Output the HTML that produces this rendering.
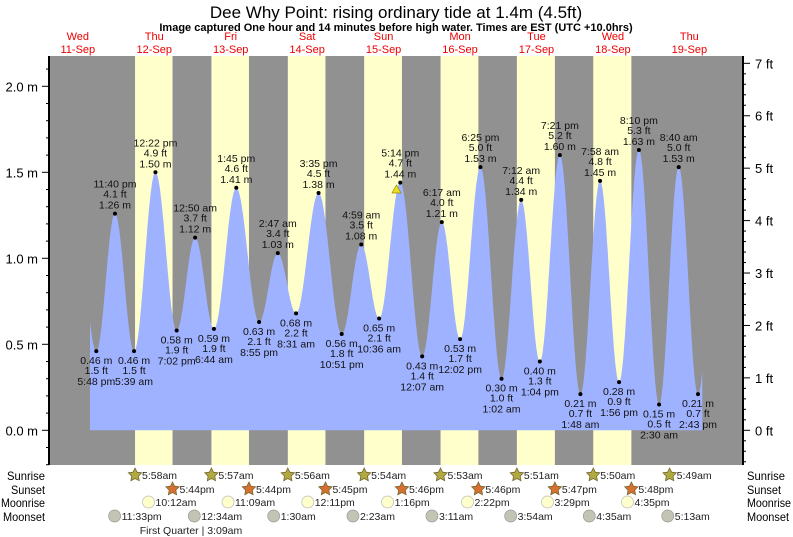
<!DOCTYPE html>
<html><head><meta charset="utf-8"><style>
html,body{margin:0;padding:0;background:#fff;width:793px;height:537px;overflow:hidden}
svg{display:block;font-family:"Liberation Sans",sans-serif}
</style></head><body>
<svg id="s" width="793" height="537" xmlns="http://www.w3.org/2000/svg"></svg>
<script>
var s=document.getElementById('s'),h='';
function X(t){return 39.6+t*3.185;}
function Y(m){return 430.3-m*172;}
var L=49,R=743,T=56,B=465;
h+='<text x="396" y="18" font-size="17" text-anchor="middle">Dee Why Point: rising  ordinary tide at 1.4m (4.5ft)</text>';
h+='<text x="396" y="31" font-size="11" font-weight="bold" text-anchor="middle">Image captured One hour and 14 minutes before high water. Times are EST (UTC +10.0hrs)</text>';
var days=[['Wed','11-Sep'],['Thu','12-Sep'],['Fri','13-Sep'],['Sat','14-Sep'],['Sun','15-Sep'],['Mon','16-Sep'],['Tue','17-Sep'],['Wed','18-Sep'],['Thu','19-Sep']];
days.forEach(function(d,i){var x=X(i*24+12);h+='<text x="'+x+'" y="40" font-size="11" fill="#e00" text-anchor="middle">'+d[0]+'</text><text x="'+x+'" y="53" font-size="11" fill="#e00" text-anchor="middle">'+d[1]+'</text>';});
h+='<rect x="'+L+'" y="'+T+'" width="'+(R-L)+'" height="'+(B-T)+'" fill="#919191"/>';
function hm(s){var m=s.match(/(\d+):(\d+)(am|pm)/);var H=+m[1]%12;if(m[3]=='pm')H+=12;return H+m[2]/60;}
var sr=['5:58am','5:57am','5:56am','5:54am','5:53am','5:51am','5:50am','5:49am'];
var ss=['5:44pm','5:44pm','5:45pm','5:46pm','5:46pm','5:47pm','5:48pm'];
for(var i=0;i<7;i++){var a=X((i+1)*24+hm(sr[i])),b=X((i+1)*24+hm(ss[i]));h+='<rect x="'+a+'" y="'+T+'" width="'+(b-a)+'" height="'+(B-T)+'" fill="#ffffcc"/>';}
var ex=[[0,'5:48pm',.46],[0,'11:40pm',1.26],[1,'5:39am',.46],[1,'12:22pm',1.50],[1,'7:02pm',.58],[2,'12:50am',1.12],[2,'6:44am',.59],[2,'1:45pm',1.41],[2,'8:55pm',.63],[3,'2:47am',1.03],[3,'8:31am',.68],[3,'3:35pm',1.38],[3,'10:51pm',.56],[4,'4:59am',1.08],[4,'10:36am',.65],[4,'5:14pm',1.44],[5,'12:07am',.43],[5,'6:17am',1.21],[5,'12:02pm',.53],[5,'6:25pm',1.53],[6,'1:02am',.30],[6,'7:12am',1.34],[6,'1:04pm',.40],[6,'7:21pm',1.60],[7,'1:48am',.21],[7,'7:58am',1.45],[7,'1:56pm',.28],[7,'8:10pm',1.63],[8,'2:30am',.15],[8,'8:40am',1.53],[8,'2:43pm',.21]];
var pts=[[11.6,1.2]];ex.forEach(function(e){pts.push([e[0]*24+hm(e[1]),e[2]]);});pts.push([213.2,1.5]);
function v(t){for(var i=0;i<pts.length-1;i++){var a=pts[i],b=pts[i+1];if(t>=a[0]&&t<=b[0]){var f=(t-a[0])/(b[0]-a[0]);return a[1]+(b[1]-a[1])*(1-Math.cos(Math.PI*f))/2;}}return 0;}
var t0=(90-39.6)/3.185,t1=(702.3-39.6)/3.185,p='M'+X(t0)+','+Y(0);
for(var t=t0;t<=t1;t+=0.1)p+=' L'+X(t).toFixed(1)+','+Y(v(t)).toFixed(1);
p+=' L'+X(t1)+','+Y(v(t1))+' L'+X(t1)+','+Y(0)+'Z';
h+='<path d="'+p+'" fill="#9fb2ff"/>';
ex.forEach(function(e,i){var x=X(e[0]*24+hm(e[1])),y=Y(e[2]);var ft=(e[2]/0.3048).toFixed(1)+' ft',m=e[2].toFixed(2)+' m',tm=e[1].replace(/(am|pm)/,' $1');
h+='<circle cx="'+x+'" cy="'+y+'" r="2" fill="#000"/>';
var hi=(i%2==1);var g='<g font-size="10.5" text-anchor="middle" fill="#111">';
if(hi)g+='<text x="'+x+'" y="'+(y-5)+'">'+m+'</text><text x="'+x+'" y="'+(y-16)+'">'+ft+'</text><text x="'+x+'" y="'+(y-26)+'">'+tm+'</text>';
else g+='<text x="'+x+'" y="'+(y+13)+'">'+m+'</text><text x="'+x+'" y="'+(y+23)+'">'+ft+'</text><text x="'+x+'" y="'+(y+34)+'">'+tm+'</text>';
h+=g+'</g>';});
h+='<polygon points="392,193 401,193 396.5,185" fill="#e8e020" stroke="#998800" stroke-width="0.7"/>';
h+='<line x1="'+L+'" y1="'+T+'" x2="'+L+'" y2="'+B+'" stroke="#000" stroke-width="2"/>';
h+='<line x1="'+R+'" y1="'+T+'" x2="'+R+'" y2="'+B+'" stroke="#000" stroke-width="2"/>';
for(var k=-2;k<=21;k++){var y=Y(k/10);if(y<T||y>B)continue;var big=k%5==0;h+='<line x1="'+(L-(big?7:3))+'" y1="'+y+'" x2="'+L+'" y2="'+y+'" stroke="#000"/>';if(big)h+='<text x="38" y="'+(y+5)+'" font-size="13" text-anchor="end">'+(k/10).toFixed(1)+' m</text>';}
for(var k=-3;k<=35;k++){var y=Y(k*0.2*0.3048);if(y<T||y>B)continue;var big=k%5==0;h+='<line x1="'+R+'" y1="'+y+'" x2="'+(R+(big?7:3))+'" y2="'+y+'" stroke="#000"/>';if(big)h+='<text x="755" y="'+(y+5)+'" font-size="13">'+(k/5)+' ft</text>';}
var rows=[['Sunrise',475,38],['Sunset',489,34],['Moonrise',502,44],['Moonset',516,42]];
rows.forEach(function(r){h+='<text x="45" y="'+(r[1]+5)+'" font-size="12" text-anchor="end" textLength="'+r[2]+'" lengthAdjust="spacingAndGlyphs">'+r[0]+'</text><text x="747" y="'+(r[1]+5)+'" font-size="12" textLength="'+r[2]+'" lengthAdjust="spacingAndGlyphs">'+r[0]+'</text>';});
function star(x,y,c){var q='';for(var i=0;i<10;i++){var a=-Math.PI/2+i*Math.PI/5,rr=i%2?3.5:7;q+=(x+rr*Math.cos(a)).toFixed(1)+','+(y+rr*Math.sin(a)).toFixed(1)+' ';}return '<polygon points="'+q+'" fill="'+c+'" stroke="#776633" stroke-width="0.8"/>';}
function lab(x,y,t){return '<text x="'+(x+7)+'" y="'+(y+4)+'" font-size="10.5" fill="#222">'+t+'</text>';}
sr.forEach(function(s,i){var x=X((i+1)*24+hm(s));h+=star(x,475,'#b0aa40')+lab(x,475,s);});
ss.forEach(function(s,i){var x=X((i+1)*24+hm(s));h+=star(x,489,'#d87030')+lab(x,489,s);});
['10:12am','11:09am','12:11pm','1:16pm','2:22pm','3:29pm','4:35pm'].forEach(function(s,i){var x=X((i+1)*24+hm(s));h+='<circle cx="'+x+'" cy="502" r="6" fill="#ffffcc" stroke="#bbb" stroke-width="0.7"/>'+lab(x,502,s);});
[[0,'11:33pm'],[2,'12:34am'],[3,'1:30am'],[4,'2:23am'],[5,'3:11am'],[6,'3:54am'],[7,'4:35am'],[8,'5:13am']].forEach(function(e){var x=X(e[0]*24+hm(e[1]));h+='<circle cx="'+x+'" cy="516" r="6" fill="#c4c4b4" stroke="#999" stroke-width="0.7"/>'+lab(x,516,e[1]);});
h+='<text x="191" y="534" font-size="10.5" text-anchor="middle" fill="#222">First Quarter | 3:09am</text>';
s.innerHTML=h;
</script>
</body></html>
